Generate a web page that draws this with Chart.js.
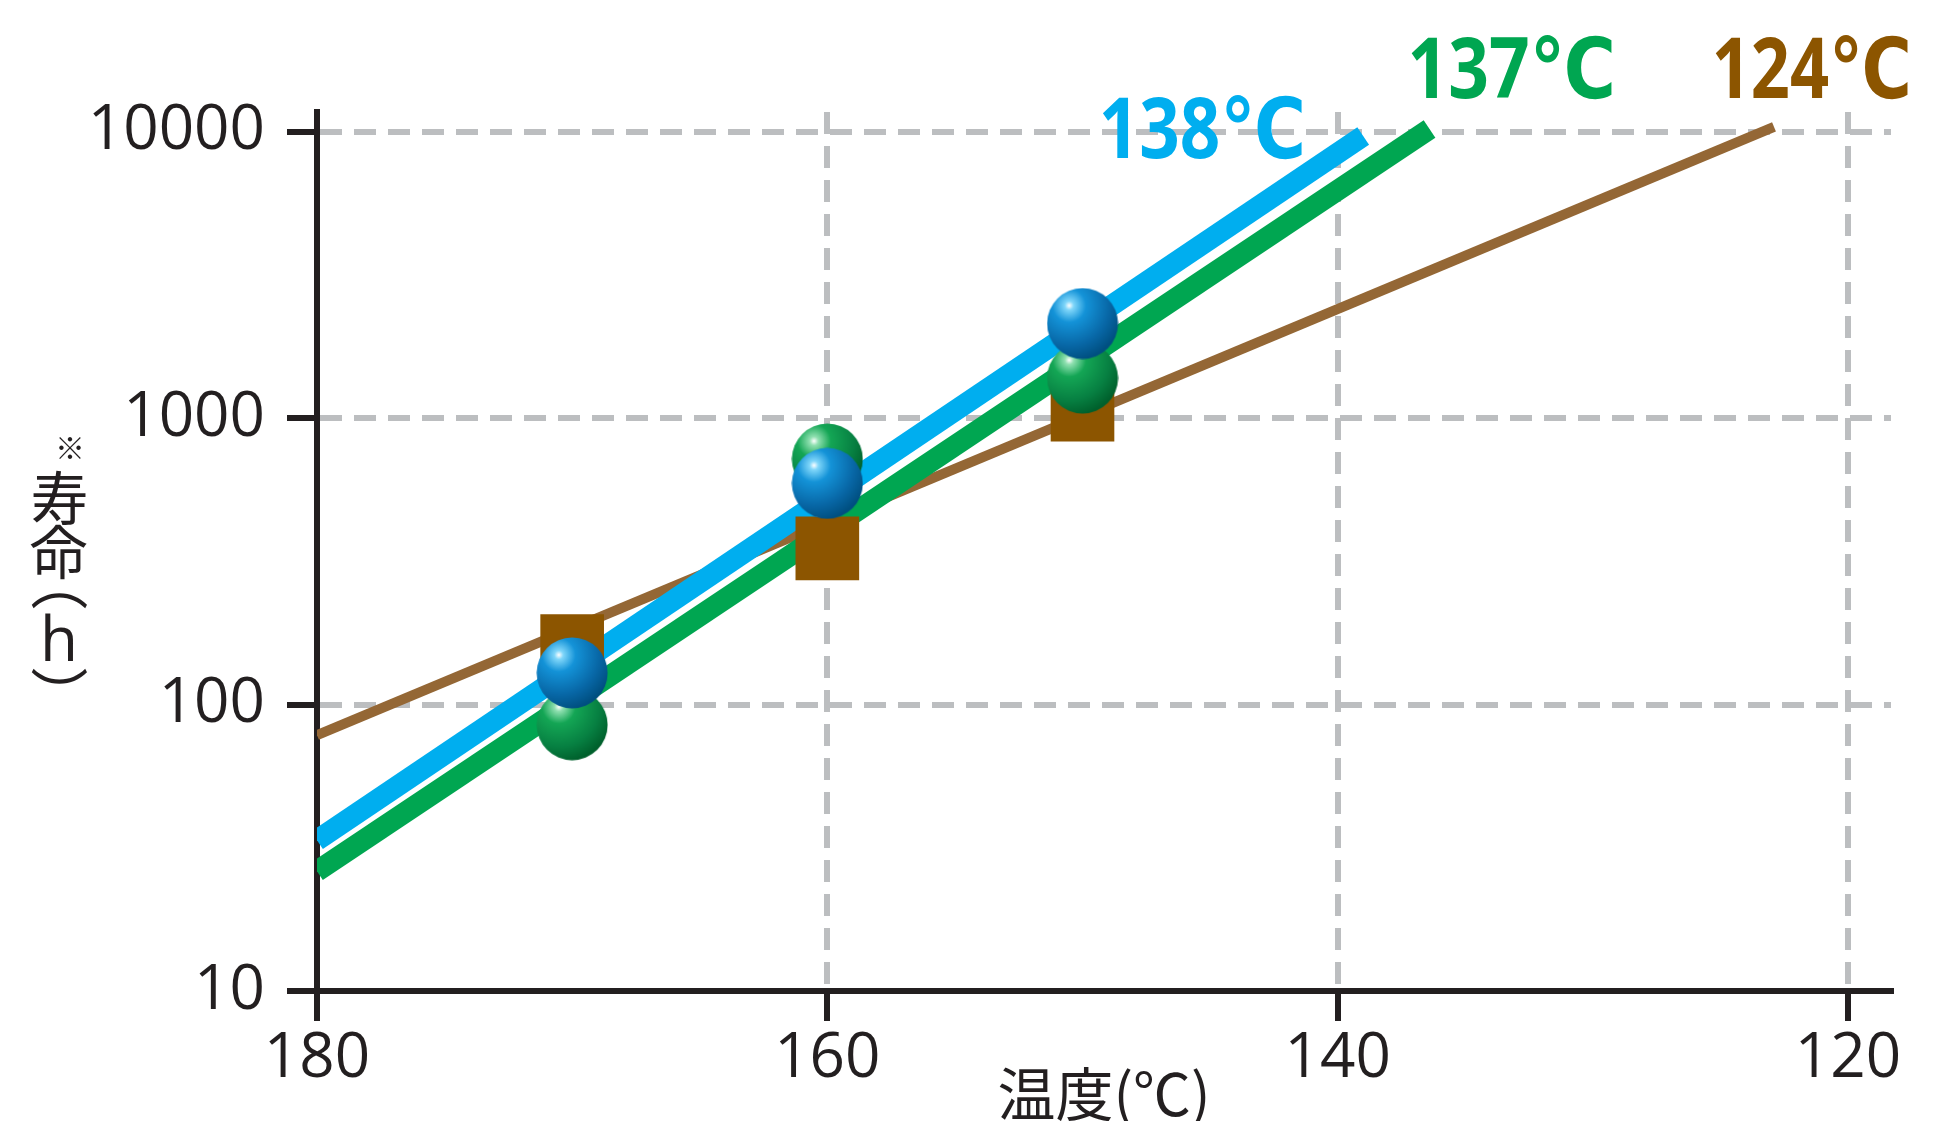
<!DOCTYPE html>
<html>
<head>
<meta charset="utf-8">
<script src="https://cdn.jsdelivr.net/npm/chart.js@4.4.1/dist/chart.umd.min.js"></script>
<style>
  html, body { margin: 0; padding: 0; background: #ffffff; }
  canvas { display: block; }
</style>
</head>
<body>
<canvas id="lifeChart" width="1941" height="1121"></canvas>
<script>
// Test temperatures (°C) and measured life (h) for each material
const testTemps = [170, 160, 150];
const life138 = [129, 592, 2140];
const life137 = [85, 720, 1380];
const life124 = [160, 351, 1070];

// Fitted life lines: endpoints (temperature, hours)
const fitTemps138 = [180, 139.0];
const fitLife138 = [33.6, 9660];
const fitTemps137 = [180, 136.4];
const fitLife137 = [26.2, 10220];
const fitTemps124 = [180, 122.9];
const fitLife124 = [78.2, 10390];

const seriesNames = ['138℃', '137℃', '124℃'];
const xTicks = [180, 160, 140, 120];
const yTicks = [10, 100, 1000, 10000];
const xTitle = '温度(℃)';
const yTitleMark = '※';
const yTitleChars = ['寿', '命', '（', 'h', '）'];

const INK = '#231F20';
const GRID = '#BCBEC0';
const BLUE = '#00AEEF';
const GREEN = '#00A651';
const BROWN_LINE = '#946735';
const BROWN = '#8C5500';

function pts(xs, ys) { return xs.map((x, i) => ({ x: x, y: ys[i] })); }

// Shaded sphere sprite used as a point style
function makeBall(r, stops) {
  const cv = document.createElement('canvas');
  cv.width = cv.height = 2 * r;
  const g = cv.getContext('2d');
  const hx = r - 0.37 * r, hy = r - 0.5 * r;
  const grd = g.createRadialGradient(hx, hy, 0, hx, hy, 1.55 * r);
  grd.addColorStop(0, '#ffffff');
  grd.addColorStop(0.08, stops[0]);
  grd.addColorStop(0.3, stops[1]);
  grd.addColorStop(0.72, stops[2]);
  grd.addColorStop(1, stops[3]);
  g.fillStyle = grd;
  g.beginPath();
  g.arc(r, r, r - 0.5, 0, Math.PI * 2);
  g.fill();
  return cv;
}
const blueBall = makeBall(36, ['#7fd6fa', '#1493d8', '#0867a6', '#004f80']);
const greenBall = makeBall(36, ['#8fe0b0', '#14a655', '#078042', '#00602c']);

// Draw text centred on its visible ink box
function glyph(g, text, font, cx, cy, angle) {
  g.save();
  g.font = font;
  g.textAlign = 'left';
  g.textBaseline = 'alphabetic';
  const m = g.measureText(text);
  const ox = (m.actualBoundingBoxRight - m.actualBoundingBoxLeft) / 2;
  const oy = (m.actualBoundingBoxDescent - m.actualBoundingBoxAscent) / 2;
  g.translate(cx, cy);
  g.rotate(angle);
  g.fillText(text, -ox, -oy);
  g.restore();
}

// Draw text from a left baseline point, squeezed to a given ink width
function fitText(g, text, x, y, width) {
  g.save();
  g.textAlign = 'left';
  g.textBaseline = 'alphabetic';
  const m = g.measureText(text);
  const w = m.actualBoundingBoxRight + m.actualBoundingBoxLeft;
  g.translate(x, y);
  g.scale(width / w, 1);
  g.fillText(text, m.actualBoundingBoxLeft, 0);
  g.restore();
}

const textLayer = {
  id: 'textLayer',
  afterDraw(chart) {
    const g = chart.ctx;
    g.save();
    g.fillStyle = INK;
    // vertical y-axis title
    glyph(g, yTitleMark, '400 30px "Noto Sans CJK JP"', 70, 448, 0);
    glyph(g, yTitleChars[0], '400 58px "Noto Sans CJK JP"', 59, 497, 0);
    glyph(g, yTitleChars[1], '400 58px "Noto Sans CJK JP"', 59, 552, 0);
    glyph(g, yTitleChars[2], '400 58px "Noto Sans CJK JP"', 59, 601, Math.PI / 2);
    glyph(g, yTitleChars[3], '400 62px "Open Sans"', 59, 637, 0);
    glyph(g, yTitleChars[4], '400 58px "Noto Sans CJK JP"', 59, 676, Math.PI / 2);

    // series names at the line ends
    const spots = [[1102, 158, 200, BLUE], [1411, 98, 201, GREEN], [1715, 98, 193, BROWN]];
    g.font = '700 84px "Open Sans", "DejaVu Sans", sans-serif';
    seriesNames.forEach((s, i) => {
      g.fillStyle = spots[i][3];
      fitText(g, s, spots[i][0], spots[i][1], spots[i][2]);
    });
    g.restore();
  }
};

const axisGrid = {
  color: GRID,
  lineWidth: 6,
  drawTicks: true,
  tickColor: INK,
  tickWidth: 6,
  tickLength: 30,
  tickBorderDash: []
};
const axisBorder = { display: true, color: INK, width: 6, dash: [22, 12] };
const tickFont = { family: '"Open Sans"', size: 62, weight: '400' };

new Chart(document.getElementById('lifeChart'), {
  type: 'scatter',
  data: {
    datasets: [
      { label: seriesNames[0], data: pts(testTemps, life138), pointStyle: blueBall,
        pointRadius: 36, showLine: false, order: 0 },
      { label: seriesNames[1], data: pts(testTemps, life137), pointStyle: greenBall,
        pointRadius: 36, showLine: false, order: 1 },
      { label: seriesNames[2], data: pts(testTemps, life124), pointStyle: 'rect',
        pointRadius: 45, backgroundColor: BROWN, borderWidth: 0, showLine: false, order: 2 },
      { label: seriesNames[0] + ' fit', data: pts(fitTemps138, fitLife138), showLine: true,
        borderColor: BLUE, borderWidth: 21, borderCapStyle: 'butt', pointRadius: 0, order: 3 },
      { label: seriesNames[1] + ' fit', data: pts(fitTemps137, fitLife137), showLine: true,
        borderColor: GREEN, borderWidth: 21, borderCapStyle: 'butt', pointRadius: 0, order: 4 },
      { label: seriesNames[2] + ' fit', data: pts(fitTemps124, fitLife124), showLine: true,
        borderColor: BROWN_LINE, borderWidth: 10, borderCapStyle: 'butt', pointRadius: 0, order: 5 }
    ]
  },
  options: {
    responsive: false,
    devicePixelRatio: 1,
    animation: false,
    events: [],
    layout: { padding: { left: 0, right: 50, top: 112, bottom: 0 } },
    plugins: { legend: { display: false }, tooltip: { enabled: false } },
    scales: {
      x: {
        type: 'linear',
        reverse: true,
        min: 118.315,
        max: 180,
        afterBuildTicks: s => { s.ticks = xTicks.map(v => ({ value: v })); },
        afterFit: s => { s.height = 130; },
        grid: axisGrid,
        border: axisBorder,
        ticks: { color: INK, font: tickFont, padding: 1, maxRotation: 0, autoSkip: false,
                 callback: v => String(v) },
        title: { display: true, text: xTitle, color: INK,
                 font: { family: '"Noto Sans CJK JP"', size: 58 },
                 padding: { top: 0, bottom: -8 } }
      },
      y: {
        type: 'logarithmic',
        min: 10,
        max: 11720,
        afterBuildTicks: s => { s.ticks = yTicks.map(v => ({ value: v })); },
        afterFit: s => { s.width = 317; },
        grid: axisGrid,
        border: axisBorder,
        ticks: { color: INK, font: tickFont, padding: 22, autoSkip: false,
                 callback: v => String(v) }
      }
    }
  },
  plugins: [textLayer]
});
</script>
</body>
</html>
